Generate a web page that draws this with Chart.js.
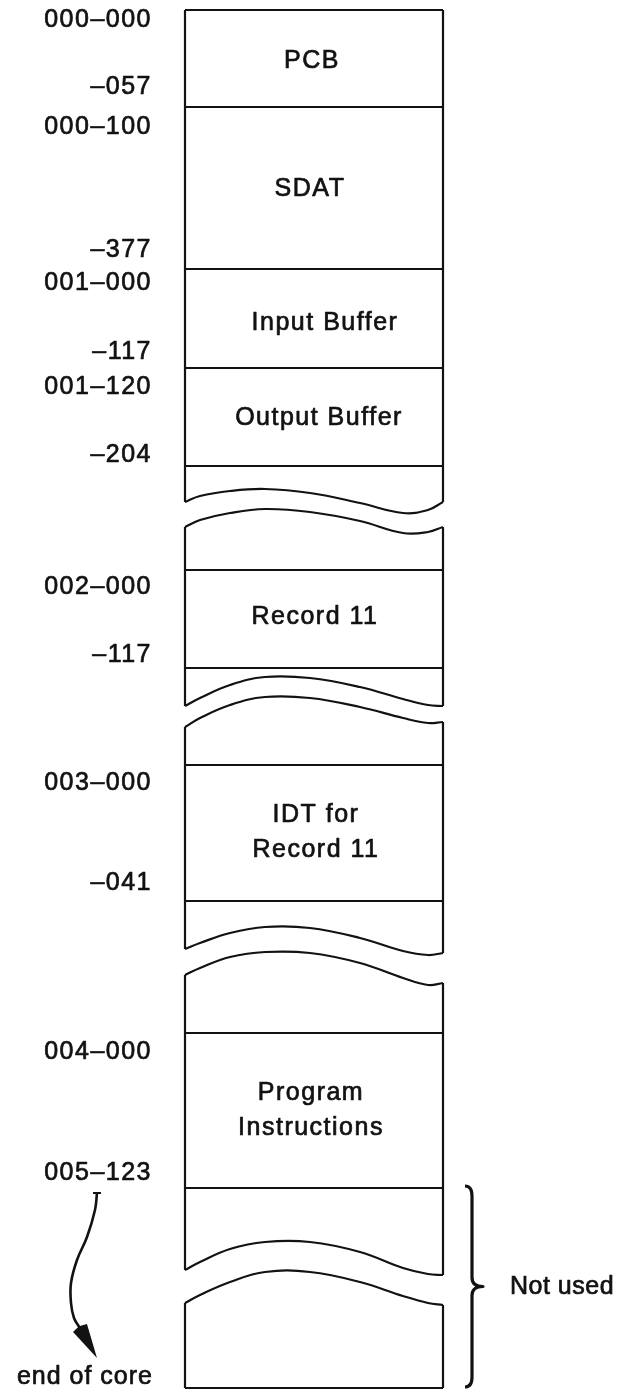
<!DOCTYPE html>
<html>
<head>
<meta charset="utf-8">
<script src="https://cdn.jsdelivr.net/npm/chart.js@4.4.1/dist/chart.umd.min.js"></script>
<style>
  html, body { margin: 0; padding: 0; background: #fff; }
  #memoryMap { display: block; }
</style>
</head>
<body>
<canvas id="memoryMap" width="624" height="1393"></canvas>
<script>
// Memory map layout (diagram units on a 624 x 1393 grid)
const columnEdges = [185, 443];
const dividerY = [10, 107, 269, 368, 466, 570, 668, 765, 901, 1033, 1188, 1388];

const blockNames = ['PCB', 'SDAT', 'Input Buffer', 'Output Buffer', 'Record 11', 'IDT for\nRecord 11', 'Program\nInstructions'];
const blockTextX = [311, 309, 324, 318, 314, 315, 310];
const blockTextY = [61, 189, 323, 418, 617, 833, 1111];

const addressLabels = ['000\u2013000', '\u2013057', '000\u2013100', '\u2013377', '001\u2013000', '\u2013117', '001\u2013120',
    '\u2013204', '002\u2013000', '\u2013117', '003\u2013000', '\u2013041', '004\u2013000', '005\u2013123'];
const addressY = [20, 87, 127, 250, 283, 352, 387, 455, 587, 655, 783, 883, 1052, 1173];

// wavy "break" edges: x positions shared, y per curve
const waveX = [185, 200, 230, 265, 310, 360, 403, 428, 443];
const breakUpper = [
    [502, 496, 491, 489, 493, 503, 513, 510, 502],
    [706, 698, 685, 677, 678, 687, 699, 705, 706],
    [949, 943, 933, 927, 928, 938, 951, 955, 953],
    [1270, 1262, 1249, 1242, 1242, 1252, 1268, 1274, 1275]
];
const breakLower = [
    [527, 520, 513, 509, 512, 521, 533, 532, 527],
    [727, 718, 705, 697, 698, 707, 718, 723, 722],
    [975, 968, 957, 952, 953, 963, 978, 985, 983],
    [1303, 1295, 1282, 1272, 1272, 1282, 1296, 1303, 1305]
];

// arrow from 005-123 down to "end of core"
const arrowX = [97, 95, 87, 77, 71, 71, 74, 80];
const arrowY = [1193, 1210, 1237, 1260, 1283, 1303, 1318, 1328];
const arrowTip = [97, 1358];

// brace for the unused area
const braceSpan = [1186, 1387];
const braceX = [465, 472, 483];

const endLabel = 'end of core';
const sideLabel = 'Not used';

const ink = '#121212';
const lineStyle = { borderColor: ink, borderWidth: 2.2, pointRadius: 0, showLine: true, fill: false, tension: 0 };

const datasets = [];

// horizontal dividers
dividerY.forEach(y => {
    datasets.push({ ...lineStyle, data: [{ x: columnEdges[0], y: y }, { x: columnEdges[1], y: y }] });
});

// vertical sides of each piece of the column
for (let i = 0; i <= breakUpper.length; i++) {
    const last = waveX.length - 1;
    const topL = i === 0 ? dividerY[0] : breakLower[i - 1][0];
    const topR = i === 0 ? dividerY[0] : breakLower[i - 1][last];
    const botL = i < breakUpper.length ? breakUpper[i][0] : dividerY[dividerY.length - 1];
    const botR = i < breakUpper.length ? breakUpper[i][last] : dividerY[dividerY.length - 1];
    datasets.push({ ...lineStyle, data: [{ x: columnEdges[0], y: topL }, { x: columnEdges[0], y: botL }] });
    datasets.push({ ...lineStyle, data: [{ x: columnEdges[1], y: topR }, { x: columnEdges[1], y: botR }] });
}

// wavy edges
breakUpper.concat(breakLower).forEach(curve => {
    datasets.push({ ...lineStyle, tension: 0.4, data: waveX.map((x, k) => ({ x: x, y: curve[k] })) });
});

// arrow shaft
datasets.push({ ...lineStyle, borderWidth: 2.6, tension: 0.4, data: arrowX.map((x, k) => ({ x: x, y: arrowY[k] })) });

function inkText(ctx, text, x, y) {
    ctx.fillText(text, x, y);
    ctx.strokeText(text, x, y);
}

const diagramText = {
    id: 'diagramText',
    afterDatasetsDraw(chart) {
        const ctx = chart.ctx;
        const xs = chart.scales.x;
        const ys = chart.scales.y;
        ctx.save();
        ctx.fillStyle = ink;
        ctx.strokeStyle = ink;
        ctx.lineWidth = 0.7;
        ctx.lineJoin = 'round';
        ctx.font = '25px "Liberation Sans", Arial, sans-serif';
        ctx.textBaseline = 'middle';
        ctx.letterSpacing = '1.5px';

        // block names inside the column
        ctx.textAlign = 'center';
        blockNames.forEach((name, i) => {
            const lines = name.split('\n');
            const gap = 35;
            lines.forEach((line, j) => {
                const yy = blockTextY[i] + (j - (lines.length - 1) / 2) * gap;
                inkText(ctx, line, xs.getPixelForValue(blockTextX[i]) + 1, ys.getPixelForValue(yy));
            });
        });

        // addresses on the left
        ctx.textAlign = 'right';
        addressLabels.forEach((lab, i) => {
            inkText(ctx, lab, xs.getPixelForValue(152), ys.getPixelForValue(addressY[i]));
        });
        ctx.letterSpacing = '1px';
        inkText(ctx, endLabel, xs.getPixelForValue(153), ys.getPixelForValue(1377));

        ctx.textAlign = 'left';
        ctx.letterSpacing = '0.5px';
        inkText(ctx, sideLabel, xs.getPixelForValue(510), ys.getPixelForValue(1287));

        // little tick at top of arrow
        ctx.lineWidth = 2;
        ctx.beginPath();
        ctx.moveTo(xs.getPixelForValue(arrowX[0] - 4), ys.getPixelForValue(arrowY[0]));
        ctx.lineTo(xs.getPixelForValue(arrowX[0] + 4), ys.getPixelForValue(arrowY[0]));
        ctx.stroke();

        // arrow head
        const n = arrowX.length - 1;
        const bx = xs.getPixelForValue(arrowX[n]), by = ys.getPixelForValue(arrowY[n]);
        const tx = xs.getPixelForValue(arrowTip[0]), ty = ys.getPixelForValue(arrowTip[1]);
        const ang = Math.atan2(ty - by, tx - bx);
        const half = 8;
        ctx.beginPath();
        ctx.moveTo(tx, ty);
        ctx.lineTo(bx + Math.cos(ang + Math.PI / 2) * half, by + Math.sin(ang + Math.PI / 2) * half);
        ctx.lineTo(bx - 2 * Math.cos(ang), by - 2 * Math.sin(ang));
        ctx.lineTo(bx + Math.cos(ang - Math.PI / 2) * half, by + Math.sin(ang - Math.PI / 2) * half);
        ctx.closePath();
        ctx.fill();

        // brace
        const x0 = xs.getPixelForValue(braceX[0]);
        const x1 = xs.getPixelForValue(braceX[1]);
        const x2 = xs.getPixelForValue(braceX[2]);
        const yt = ys.getPixelForValue(braceSpan[0]);
        const yb = ys.getPixelForValue(braceSpan[1]);
        const ym = (yt + yb) / 2;
        ctx.lineWidth = 3.2;
        ctx.beginPath();
        ctx.moveTo(x0, yt);
        ctx.quadraticCurveTo(x1, yt, x1, yt + 10);
        ctx.lineTo(x1, ym - 9);
        ctx.quadraticCurveTo(x1, ym, x2, ym);
        ctx.quadraticCurveTo(x1, ym, x1, ym + 9);
        ctx.lineTo(x1, yb - 10);
        ctx.quadraticCurveTo(x1, yb, x0, yb);
        ctx.stroke();
        ctx.restore();
    }
};

new Chart(document.getElementById('memoryMap').getContext('2d'), {
    type: 'scatter',
    data: { datasets: datasets },
    options: {
        responsive: false,
        animation: false,
        devicePixelRatio: 1,
        layout: { padding: 0 },
        scales: {
            x: { type: 'linear', min: 0, max: 624, display: false },
            y: { type: 'linear', min: 0, max: 1393, reverse: true, display: false }
        },
        plugins: {
            legend: { display: false },
            tooltip: { enabled: false }
        }
    },
    plugins: [diagramText]
});
</script>
</body>
</html>
